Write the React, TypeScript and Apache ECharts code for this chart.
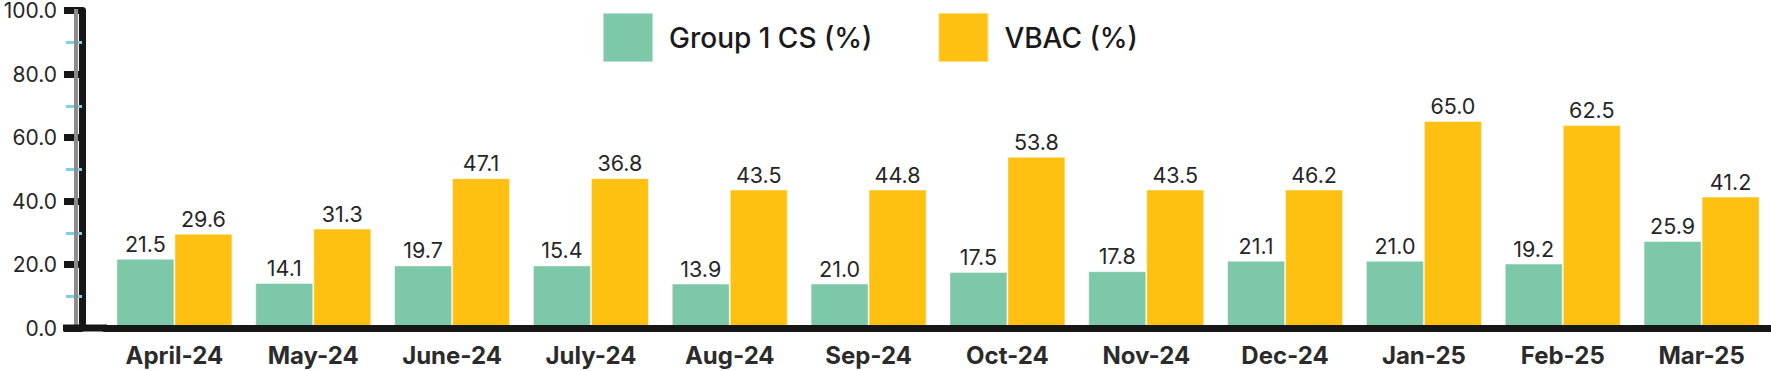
import React, { useEffect, useRef } from "react";
import * as echarts from "echarts";

const categories = [
  "April-24", "May-24", "June-24", "July-24", "Aug-24", "Sep-24",
  "Oct-24", "Nov-24", "Dec-24", "Jan-25", "Feb-25", "Mar-25",
];
// bar heights as drawn in the reference
const csBars = [21.8, 14.2, 19.7, 19.7, 14.0, 14.0, 17.6, 17.9, 21.2, 21.2, 20.3, 27.4];
const vbacBars = [29.7, 31.3, 47.2, 47.2, 43.6, 43.6, 53.9, 43.6, 43.6, 65.2, 63.9, 41.4];
// values printed above the bars
const csLabels = [21.5, 14.1, 19.7, 15.4, 13.9, 21.0, 17.5, 17.8, 21.1, 21.0, 19.2, 25.9];
const vbacLabels = [29.6, 31.3, 47.1, 36.8, 43.5, 44.8, 53.8, 43.5, 46.2, 65.0, 62.5, 41.2];
const seriesNames = ["Group 1 CS (%)", "VBAC (%)"];

const FONT = "Inter, 'Noto Sans', sans-serif";

export default function App() {
  const ref = useRef<HTMLDivElement>(null);
  useEffect(() => {
    if (!ref.current) return;
    const chart = echarts.init(ref.current, undefined, { renderer: "svg" });
    const labelStyle = {
      show: true,
      position: "top" as const,
      distance: 4,
      fontFamily: FONT,
      fontSize: 21.5,
      color: "#262626",
    };
    chart.setOption({
      animation: false,
      backgroundColor: "#ffffff",
      textStyle: { fontFamily: FONT },
      legend: {
        data: seriesNames,
        left: 602,
        top: 12,
        padding: 0,
        icon: "rect",
        itemWidth: 50,
        itemHeight: 49,
        itemGap: 65,
        textStyle: {
          fontFamily: FONT,
          fontSize: 28,
          fontWeight: 500,
          color: "#1a1a1a",
          padding: [0, 0, 0, 11],
        },
      },
      grid: { left: 105, right: 0, top: 9, bottom: 43, containLabel: false },
      xAxis: {
        type: "category",
        data: categories,
        z: 5,
        axisLine: { show: true, lineStyle: { color: "#161616", width: 7 } },
        axisTick: { show: false },
        axisLabel: {
          margin: 15,
          fontFamily: FONT,
          fontSize: 24,
          fontWeight: 700,
          color: "#2b2b2b",
        },
      },
      yAxis: {
        type: "value",
        min: 0,
        max: 100,
        interval: 20,
        offset: 23,
        z: 5,
        splitLine: { show: false },
        axisLine: { show: true, lineStyle: { color: "#161616", width: 7 } },
        axisTick: { show: true, length: 18, lineStyle: { color: "#161616", width: 7 } },
        minorTick: { show: true, splitNumber: 2, length: 16, lineStyle: { color: "#7fcfe2", width: 3 } },
        axisLabel: {
          margin: 25,
          fontFamily: FONT,
          fontSize: 21,
          color: "#262626",
          formatter: (v: number) => v.toFixed(1),
        },
      },
      graphic: [
        { type: "rect", shape: { x: 63, y: 324.5, width: 44, height: 7 }, style: { fill: "#161616" }, z: 10 },
        { type: "rect", shape: { x: 74, y: 9, width: 4, height: 317 }, style: { fill: "#8c8c8c" }, z: 9 },
      ],
      series: [
        {
          name: seriesNames[0],
          type: "bar",
          data: csBars,
          barWidth: 58,
          barGap: "0%",
          itemStyle: { color: "#7dc8a9", borderColor: "rgba(255,255,255,0.45)", borderWidth: 1 },
          label: { ...labelStyle, formatter: (p: any) => csLabels[p.dataIndex].toFixed(1) },
        },
        {
          name: seriesNames[1],
          type: "bar",
          data: vbacBars,
          barWidth: 58,
          barGap: "0%",
          itemStyle: { color: "#fec112", borderColor: "rgba(255,255,255,0.45)", borderWidth: 1 },
          label: { ...labelStyle, formatter: (p: any) => vbacLabels[p.dataIndex].toFixed(1) },
        },
      ],
    });
    return () => chart.dispose();
  }, []);
  return (
    <div
      ref={ref}
      style={{ position: "fixed", left: 0, top: 0, width: 1771, height: 371, background: "#fff" }}
    />
  );
}
